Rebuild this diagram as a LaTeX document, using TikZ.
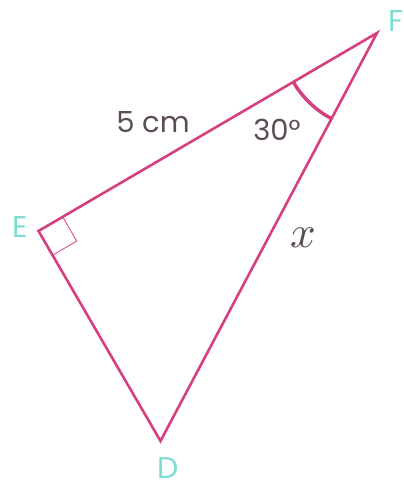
\documentclass[tikz,border=0pt]{standalone}
\usepackage{fontspec}
\setmainfont{Poppins}
\usetikzlibrary{calc,angles}
\definecolor{pinkl}{RGB}{214,64,128}
\definecolor{lbl}{RGB}{125,221,210}
\definecolor{txt}{RGB}{90,78,83}
\begin{document}
\begin{tikzpicture}[x=1pt,y=-1pt,
  side/.style={draw=pinkl,line width=2.6pt,line join=miter},
  vlabel/.style={text=lbl,inner sep=0pt,font=\fontsize{30}{30}\selectfont},
  mlabel/.style={text=txt,inner sep=0pt,font=\fontsize{29}{29}\selectfont}]
\useasboundingbox (0,0) rectangle (404,487);
\coordinate (F) at (377,33);
\coordinate (E) at (38.5,231);
\coordinate (D) at (160.5,441);
\draw[side] (E) -- (F) -- (D) -- cycle;
% right angle
\draw[pinkl,line width=0.8pt] ($(E)!28pt!(F)$) -- ($($(E)!28pt!(F)$)+($(E)!28pt!(D)$)-(E)$) -- ($(E)!28pt!(D)$);
% angle arc
\path (E) -- (F) -- (D) pic[draw=pinkl,line width=3.5pt,angle radius=97pt] {angle=E--F--D};
\node[vlabel] (lE) at (20,227) {E};
\node[vlabel] (lF) at (396,21) {F};
\node[vlabel] (lD) at (168,468) {D};
\node[mlabel] (l5) at (153,122) {5 cm};
\node[mlabel] (l30) at (277,130) {30°};
\node[text=txt,inner sep=0pt] (lx) at (303,238) {\scalebox{4.5}{$x$}};
\end{tikzpicture}
\end{document}
